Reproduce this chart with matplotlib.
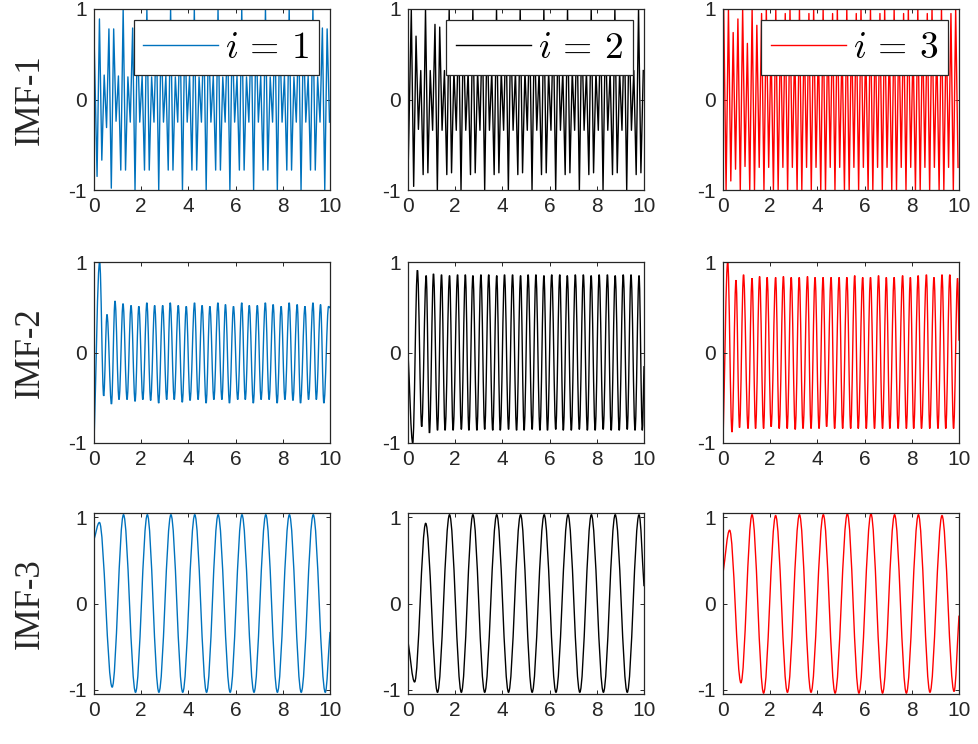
import numpy as np
import matplotlib
matplotlib.use("Agg")
import matplotlib.pyplot as plt
from matplotlib.path import Path
from matplotlib.patches import PathPatch

plt.rcParams["font.family"] = ["Liberation Sans", "DejaVu Sans"]
plt.rcParams["mathtext.fontset"] = "cm"
plt.rcParams["axes.unicode_minus"] = False

colors = ["#0072BD", "black", "red"]
legend_labels = [r"$i\,=\,1$", r"$i\,=\,2$", r"$i\,=\,3$"]
row_labels = ["IMF-1", "IMF-2", "IMF-3"]
x_ticks = [0, 2, 4, 6, 8, 10]
y_ticks = [-1, 0, 1]

imf1_start = [0.72, -0.85, 0.33]          # value at t = 0
imf1_first_t = [0.130, 0.140, 0.030]      # time of first extremum
imf1_step = [0.1005, 0.1003, 0.1003]      # spacing between extrema

imf1_blue = [
    -0.85, 0.89, -0.67, 0.27, -0.31, 0.78, -0.98, 0.78, -0.24, 0.26,
    -0.78, 1.0, -0.78, 0.25, -0.25, 0.79, -1.0, 0.78, -0.25, 0.26,
    -0.78, 1.0, -0.78, 0.25, -0.25, 0.79, -1.0, 0.78, -0.25, 0.26,
    -0.78, 1.0, -0.78, 0.25, -0.25, 0.79, -1.0, 0.78, -0.25, 0.26,
    -0.78, 1.0, -0.78, 0.25, -0.25, 0.79, -1.0, 0.78, -0.25, 0.26,
    -0.78, 1.0, -0.78, 0.25, -0.25, 0.79, -1.0, 0.78, -0.25, 0.26,
    -0.78, 1.0, -0.78, 0.25, -0.25, 0.79, -1.0, 0.78, -0.25, 0.26,
    -0.78, 1.0, -0.78, 0.25, -0.25, 0.79, -1.0, 0.78, -0.25, 0.26,
    -0.78, 1.0, -0.78, 0.25, -0.25, 0.79, -1.0, 0.78, -0.25, 0.26,
    -0.78, 1.0, -0.78, 0.25, -0.25, 0.79, -1.0, 0.78, -0.25,
]
imf1_black = [
    0.99, -0.96, 0.70, -0.33, 0.32, -0.83, 1.0, -0.81, 0.32, -0.34,
    0.83, -1.0, 0.80, -0.34, 0.32, -0.83, 1.0, -0.81, 0.32, -0.34,
    0.83, -1.0, 0.80, -0.34, 0.32, -0.83, 1.0, -0.81, 0.32, -0.34,
    0.83, -1.0, 0.80, -0.34, 0.32, -0.83, 1.0, -0.81, 0.32, -0.34,
    0.83, -1.0, 0.80, -0.34, 0.32, -0.83, 1.0, -0.81, 0.32, -0.34,
    0.83, -1.0, 0.80, -0.34, 0.32, -0.83, 1.0, -0.81, 0.32, -0.34,
    0.83, -1.0, 0.80, -0.34, 0.32, -0.83, 1.0, -0.81, 0.32, -0.34,
    0.83, -1.0, 0.80, -0.34, 0.32, -0.83, 1.0, -0.81, 0.32, -0.34,
    0.83, -1.0, 0.80, -0.34, 0.32, -0.83, 1.0, -0.81, 0.32, -0.34,
    0.83, -1.0, 0.80, -0.34, 0.32, -0.83, 1.0, -0.81, 0.32,
]
imf1_red = [
    1.0, -1.0, 1.0, -0.90, 0.74, -0.77, 0.89, -1.0, 1.0, -0.74,
    0.62, -1.0, 1.0, -1.0, 0.82, -0.75, 0.95, -1.0, 1.0, -0.75,
    0.62, -1.0, 1.0, -1.0, 0.82, -0.75, 0.95, -1.0, 1.0, -0.75,
    0.62, -1.0, 1.0, -1.0, 0.82, -0.75, 0.95, -1.0, 1.0, -0.75,
    0.62, -1.0, 1.0, -1.0, 0.82, -0.75, 0.95, -1.0, 1.0, -0.75,
    0.62, -1.0, 1.0, -1.0, 0.82, -0.75, 0.95, -1.0, 1.0, -0.75,
    0.62, -1.0, 1.0, -1.0, 0.82, -0.75, 0.95, -1.0, 1.0, -0.75,
    0.62, -1.0, 1.0, -1.0, 0.82, -0.75, 0.95, -1.0, 1.0, -0.75,
    0.62, -1.0, 1.0, -1.0, 0.82, -0.75, 0.95, -1.0, 1.0, -0.75,
    0.62, -1.0, 1.0, -1.0, 0.82, -0.75, 0.95, -1.0, 1.0, -0.75,
]
imf1_vals = [imf1_blue, imf1_black, imf1_red]

# ---- IMF-2: turning points (time, value) ----
imf2_t_blue = [
    0.0, 0.24, 0.41, 0.55, 0.74, 0.89, 1.06, 1.23, 1.40, 1.57,
    1.74, 1.90, 2.07, 2.24, 2.40, 2.57, 2.74, 2.91, 3.08, 3.23,
    3.40, 3.57, 3.74, 3.91, 4.07, 4.26, 4.41, 4.58, 4.75, 4.91,
    5.08, 5.25, 5.42, 5.57, 5.74, 5.91, 6.09, 6.26, 6.41, 6.58,
    6.75, 6.92, 7.08, 7.26, 7.42, 7.59, 7.76, 7.93, 8.09, 8.27,
    8.43, 8.61, 8.75, 8.94, 9.09, 9.28, 9.42, 9.60, 9.74, 9.94,
    10.0,
]
imf2_v_blue = [
    -1.0, 1.0, -0.48, 0.42, -0.57, 0.57, -0.52, 0.54, -0.52, 0.52,
    -0.54, 0.51, -0.52, 0.55, -0.53, 0.52, -0.56, 0.52, -0.52, 0.55,
    -0.52, 0.52, -0.55, 0.51, -0.53, 0.55, -0.52, 0.52, -0.56, 0.51,
    -0.52, 0.55, -0.52, 0.53, -0.56, 0.51, -0.52, 0.55, -0.52, 0.52,
    -0.56, 0.52, -0.52, 0.55, -0.52, 0.53, -0.56, 0.51, -0.52, 0.55,
    -0.53, 0.53, -0.56, 0.51, -0.52, 0.55, -0.52, 0.53, -0.56, 0.51,
    0.49,
]
imf2_t_black = [
    0.0, 0.20, 0.40, 0.58, 0.77, 0.91, 1.08, 1.25, 1.42, 1.57,
    1.76, 1.91, 2.10, 2.26, 2.43, 2.58, 2.75, 2.92, 3.09, 3.25,
    3.42, 3.59, 3.76, 3.91, 4.09, 4.26, 4.43, 4.60, 4.77, 4.92,
    5.09, 5.26, 5.42, 5.59, 5.76, 5.91, 6.09, 6.26, 6.43, 6.58,
    6.75, 6.92, 7.09, 7.26, 7.43, 7.60, 7.76, 7.93, 8.10, 8.27,
    8.45, 8.61, 8.78, 8.95, 9.12, 9.29, 9.45, 9.62, 9.79, 9.93,
    10.0,
]
imf2_v_black = [
    0.0, -1.0, 0.91, -0.82, 0.85, -0.89, 0.87, -0.86, 0.86, -0.86,
    0.85, -0.86, 0.86, -0.85, 0.86, -0.86, 0.85, -0.86, 0.86, -0.85,
    0.86, -0.86, 0.85, -0.86, 0.86, -0.85, 0.86, -0.86, 0.85, -0.86,
    0.86, -0.85, 0.86, -0.86, 0.85, -0.86, 0.86, -0.85, 0.86, -0.86,
    0.85, -0.86, 0.86, -0.85, 0.86, -0.86, 0.85, -0.86, 0.86, -0.85,
    0.86, -0.86, 0.85, -0.86, 0.86, -0.85, 0.86, -0.86, 0.85, -0.86,
    -0.15,
]
imf2_t_red = [
    0.0, 0.20, 0.38, 0.55, 0.70, 0.87, 1.06, 1.23, 1.38, 1.55,
    1.72, 1.87, 2.04, 2.23, 2.38, 2.56, 2.72, 2.89, 3.06, 3.23,
    3.39, 3.58, 3.73, 3.90, 4.07, 4.24, 4.39, 4.58, 4.73, 4.92,
    5.07, 5.25, 5.41, 5.58, 5.73, 5.92, 6.07, 6.25, 6.42, 6.59,
    6.76, 6.92, 7.07, 7.25, 7.42, 7.61, 7.77, 7.94, 8.08, 8.27,
    8.41, 8.62, 8.76, 8.94, 9.11, 9.28, 9.44, 9.61, 9.77, 9.94,
    10.0,
]
imf2_v_red = [
    -1.0, 1.0, -0.88, 0.80, -0.83, 0.86, -0.84, 0.82, -0.84, 0.84,
    -0.84, 0.83, -0.82, 0.83, -0.84, 0.84, -0.84, 0.83, -0.85, 0.83,
    -0.84, 0.84, -0.84, 0.83, -0.84, 0.83, -0.82, 0.83, -0.84, 0.83,
    -0.84, 0.83, -0.84, 0.85, -0.84, 0.83, -0.84, 0.83, -0.84, 0.85,
    -0.84, 0.83, -0.84, 0.83, -0.84, 0.85, -0.84, 0.83, -0.84, 0.85,
    -0.84, 0.86, -0.84, 0.83, -0.84, 0.86, -0.84, 0.86, -0.84, 0.82,
    0.13,
]

# ---- IMF-3: turning points (time, value) ----
imf3_t_blue = [0.0, 0.23, 0.77, 1.25, 1.76, 2.26, 2.75, 3.26, 3.76, 4.27, 4.77,
               5.26, 5.77, 6.27, 6.78, 7.28, 7.77, 8.28, 8.78, 9.29, 9.80, 10.0]
imf3_v_blue = [0.74, 0.94, -0.97, 1.03, -1.03, 1.03, -1.03, 1.03, -1.03, 1.03, -1.03,
               1.03, -1.03, 1.03, -1.03, 1.03, -1.03, 1.03, -1.03, 1.03, -1.03, -0.33]
imf3_t_black = [0.0, 0.28, 0.75, 1.25, 1.76, 2.26, 2.75, 3.25, 3.76, 4.26, 4.77,
                5.26, 5.77, 6.27, 6.78, 7.28, 7.77, 8.28, 8.78, 9.29, 9.79, 10.0]
imf3_v_black = [-0.44, -0.91, 0.93, -1.03, 1.03, -1.03, 1.03, -1.03, 1.03, -1.03, 1.03,
                -1.03, 1.03, -1.03, 1.03, -1.03, 1.03, -1.03, 1.03, -1.03, 1.03, 0.2]
imf3_t_red = [0.0, 0.28, 0.76, 1.23, 1.72, 2.23, 2.73, 3.24, 3.73, 4.25, 4.75,
              5.27, 5.76, 6.27, 6.76, 7.27, 7.77, 8.28, 8.77, 9.28, 9.79, 10.0]
imf3_v_red = [0.35, 0.85, -0.92, 1.03, -1.04, 1.02, -1.03, 1.03, -1.03, 1.03, -1.04,
              1.04, -1.04, 1.04, -1.04, 1.03, -1.04, 1.03, -1.03, 1.02, -1.02, -0.14]

smooth_rows = [
    [(imf2_t_blue, imf2_v_blue), (imf2_t_black, imf2_v_black), (imf2_t_red, imf2_v_red)],
    [(imf3_t_blue, imf3_v_blue), (imf3_t_black, imf3_v_black), (imf3_t_red, imf3_v_red)],
]
row_ylim = [(-1.0, 1.0), (-1.0, 1.0), (-1.05, 1.05)]


def smooth_path(t, v, c=0.36):
    # cubic pieces with flat tangents at the turning points
    verts = [(t[0], v[0])]
    codes = [Path.MOVETO]
    n = len(t)
    for i in range(n - 1):
        dt = t[i + 1] - t[i]
        dy = v[i + 1] - v[i]
        s0 = dy * c if i == 0 else 0.0
        s1 = dy * c if i == n - 2 else 0.0
        verts += [(t[i] + c * dt, v[i] + s0),
                  (t[i + 1] - c * dt, v[i + 1] - s1),
                  (t[i + 1], v[i + 1])]
        codes += [Path.CURVE4] * 3
    return Path(verts, codes)


W, H = 979, 744
fig = plt.figure(figsize=(W / 100, H / 100), dpi=100)

col_left = [94, 408, 723]
row_top = [9, 262, 513]
ax_w, ax_h = 236, 181
frame = "#262626"

for r in range(3):
    for c in range(3):
        ax = fig.add_axes([col_left[c] / W, 1 - (row_top[r] + ax_h) / H, ax_w / W, ax_h / H])
        if r == 0:
            vals = imf1_vals[c]
            t = imf1_first_t[c] + imf1_step[c] * np.arange(len(vals))
            ax.plot(np.r_[0.0, t], np.r_[imf1_start[c], vals], color=colors[c],
                    lw=1.0, label=legend_labels[c])
            leg = ax.legend(loc="upper right", fontsize=27, handlelength=2.0,
                            handletextpad=0.2, borderpad=0.25, borderaxespad=0.3,
                            fancybox=False, framealpha=1, edgecolor=frame)
            leg.get_frame().set_linewidth(0.9)
        else:
            tt, vv = smooth_rows[r - 1][c]
            ax.add_patch(PathPatch(smooth_path(tt, vv), facecolor="none",
                                   edgecolor=colors[c], lw=1.0))
        ax.set_xlim(0, 10)
        ax.set_ylim(*row_ylim[r])
        ax.set_xticks(x_ticks)
        ax.set_yticks(y_ticks)
        ax.tick_params(direction="in", top=True, right=True, length=3, width=0.7,
                       labelsize=15, colors=frame, pad=5)
        for s in ax.spines.values():
            s.set_color(frame)
            s.set_linewidth(0.9)
        if c == 0:
            ax.set_ylabel(row_labels[r], family=["Liberation Serif"], fontsize=25,
                          color=frame)
            ax.yaxis.set_label_coords(-0.20, 0.5)

fig.savefig("out.png", dpi=100)
